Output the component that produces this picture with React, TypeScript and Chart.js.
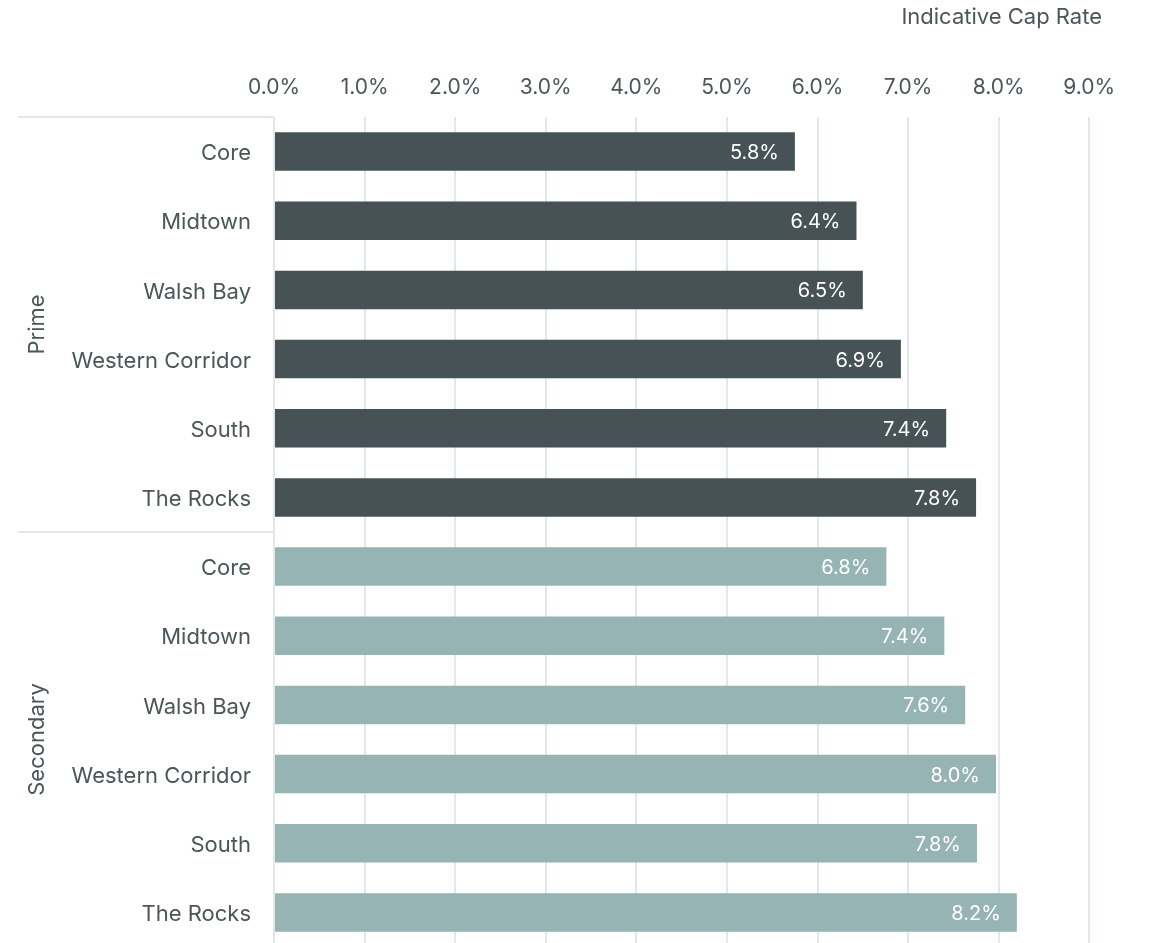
import { useEffect, useRef } from "react";
import { Chart, registerables } from "chart.js";

Chart.register(...registerables);

const regions = ["Core", "Midtown", "Walsh Bay", "Western Corridor", "South", "The Rocks"];
const groupNames = ["Prime", "Secondary"];
const primeRates = [5.75, 6.43, 6.5, 6.92, 7.42, 7.75];
const secondaryRates = [6.76, 7.4, 7.63, 7.97, 7.76, 8.2];
const xMax = 9.67;
const xStep = 1;
const axisTitle = "Indicative Cap Rate";

const FONT = "Inter, 'Noto Sans', sans-serif";
const TEXT = "#4b5659";
const GRID = "#e2e7e7";
const PRIME = "#465255";
const SECONDARY = "#97b4b5";

export default function App() {
  const ref = useRef<HTMLCanvasElement>(null);

  useEffect(() => {
    if (!ref.current) return;
    const labels = [...regions, ...regions];
    const values = [...primeRates, ...secondaryRates];
    const colors = [...primeRates.map(() => PRIME), ...secondaryRates.map(() => SECONDARY)];
    const groupStarts = [0, primeRates.length];

    const decor = {
      id: "decor",
      afterDatasetsDraw(chart: any) {
        const ctx = chart.ctx;
        const meta = chart.getDatasetMeta(0);
        ctx.save();
        ctx.font = `20px ${FONT}`;
        ctx.fillStyle = "#ffffff";
        ctx.textAlign = "right";
        ctx.textBaseline = "middle";
        meta.data.forEach((bar: any, i: number) => {
          ctx.fillText(values[i].toFixed(1) + "%", bar.x - 16, bar.y + 1.5);
        });
        ctx.restore();
      },
      afterDraw(chart: any) {
        const ctx = chart.ctx;
        const y = chart.scales.y;
        const area = chart.chartArea;
        ctx.save();
        ctx.font = `22px ${FONT}`;
        ctx.fillStyle = TEXT;
        ctx.textAlign = "right";
        ctx.textBaseline = "middle";
        ctx.fillText(axisTitle, 1102, 17);

        ctx.strokeStyle = GRID;
        ctx.lineWidth = 2;
        groupStarts.forEach((s, g) => {
          const top = s === 0 ? area.top : (y.getPixelForValue(s - 1) + y.getPixelForValue(s)) / 2;
          const next = groupStarts[g + 1];
          const bottom = next === undefined ? area.bottom : (y.getPixelForValue(next - 1) + y.getPixelForValue(next)) / 2;
          ctx.beginPath();
          ctx.moveTo(18, Math.round(top));
          ctx.lineTo(area.left, Math.round(top));
          ctx.stroke();
          ctx.save();
          ctx.translate(37, (top + bottom) / 2);
          ctx.rotate(-Math.PI / 2);
          ctx.textAlign = "center";
          ctx.textBaseline = "middle";
          ctx.fillStyle = TEXT;
          ctx.fillText(groupNames[g], 0, 0);
          ctx.restore();
        });
        ctx.restore();
      },
    };

    const chart = new Chart(ref.current, {
      type: "bar",
      data: {
        labels,
        datasets: [
          {
            data: values,
            backgroundColor: colors,
            borderWidth: 0,
            categoryPercentage: 1,
            barPercentage: 0.556,
          },
        ],
      },
      options: {
        indexAxis: "y",
        animation: false,
        responsive: false,
        devicePixelRatio: 1,
        layout: { padding: { top: 0, right: 0, bottom: 3, left: 0 } },
        plugins: {
          legend: { display: false },
          tooltip: { enabled: false },
          title: { display: false },
        },
        scales: {
          x: {
            type: "linear",
            position: "top",
            min: 0,
            max: xMax,
            grid: { color: GRID, lineWidth: 2, drawTicks: false },
            border: { display: false },
            ticks: {
              stepSize: xStep,
              includeBounds: false,
              maxRotation: 0,
              padding: 17,
              color: TEXT,
              font: { family: FONT, size: 21 },
              callback: (v: any) => Number(v).toFixed(1) + "%",
            },
            afterFit: (scale: any) => {
              scale.height = 117;
              scale.paddingLeft = 0;
              scale.paddingRight = 0;
            },
          },
          y: {
            type: "category",
            grid: { display: false, drawTicks: false },
            border: { display: false },
            ticks: {
              padding: 23,
              labelOffset: 2,
              color: TEXT,
              font: { family: FONT, size: 22 },
              autoSkip: false,
            },
            afterFit: (scale: any) => {
              scale.width = 274;
              scale.paddingTop = 0;
              scale.paddingBottom = 0;
            },
          },
        },
      },
      plugins: [decor],
    });
    return () => chart.destroy();
  }, []);

  return (
    <div style={{ position: "fixed", left: 0, top: 0, width: 1150, height: 943, overflow: "hidden", background: "#fff" }}>
      <canvas ref={ref} width={1150} height={950} style={{ display: "block" }} />
    </div>
  );
}
